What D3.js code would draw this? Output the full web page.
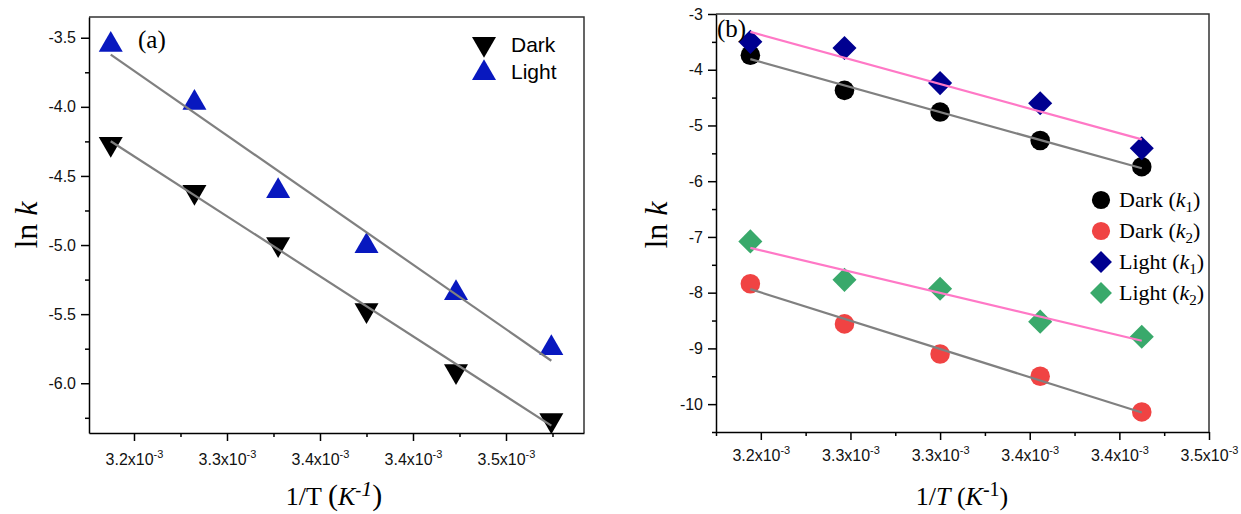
<!DOCTYPE html>
<html><head><meta charset="utf-8">
<script src="https://cdn.jsdelivr.net/npm/d3@7"></script>
<style>body{margin:0;background:#fff}</style>
</head><body>
<svg id="c" width="1241" height="514" xmlns="http://www.w3.org/2000/svg"></svg>
<script>
// ---------- Panel (a) data ----------
const invTA   = [3.180, 3.252, 3.324, 3.400, 3.477, 3.559];   // 1/T in 10^-3 K^-1
const darkA   = [-4.268, -4.616, -4.993, -5.471, -5.913, -6.268];
const lightA  = [-3.551, -3.971, -4.609, -5.007, -5.348, -5.746];
const xTicksA = [3.20, 3.28, 3.36, 3.44, 3.52];
const yTicksA = [-6.0, -5.5, -5.0, -4.5, -4.0, -3.5];
const legendA = ["Dark", "Light"];

// ---------- Panel (b) data ----------
const invTB   = [3.193, 3.256, 3.320, 3.387, 3.455];
const darkK1  = [-3.74, -4.37, -4.76, -5.27, -5.74];
const darkK2  = [-7.84, -8.56, -9.10, -9.50, -10.14];
const lightK1 = [-3.50, -3.61, -4.24, -4.60, -5.41];
const lightK2 = [-7.08, -7.77, -7.93, -8.52, -8.79];
const xTicksB = [3.20, 3.26, 3.32, 3.38, 3.44, 3.50];
const yTicksB = [-10, -9, -8, -7, -6, -5, -4, -3];
const legendB = ["Dark", "Dark", "Light", "Light"];
const legendSubB = ["1", "2", "1", "2"];

const SANS = "'Liberation Sans', Arial, sans-serif";
const SERIF = "'Liberation Serif', 'Times New Roman', serif";
const svg = d3.select("#c");

function fit(xs, ys) {
  const mx = d3.mean(xs), my = d3.mean(ys);
  const b = d3.sum(xs, (v, i) => (v - mx) * (ys[i] - my)) / d3.sum(xs, v => (v - mx) ** 2);
  const a = my - b * mx;
  return v => a + b * v;
}
function mids(t, lo, hi) {
  const s = t[1] - t[0], out = [];
  for (let v = t[0] - s / 2; v <= hi + 1e-9; v += s) if (v >= lo - 1e-9) out.push(+v.toFixed(6));
  return out;
}

function panel(cfg) {
  const x = d3.scaleLinear().domain(cfg.xDom).range([cfg.x0, cfg.x1]);
  const y = d3.scaleLinear().domain(cfg.yDom).range([cfg.y1, cfg.y0]);
  const g = svg.append("g");
  g.append("path").attr("d", `M${cfg.x0},${cfg.y0}H${cfg.x1}V${cfg.y1}`)
    .attr("fill", "none").attr("stroke", "#333").attr("stroke-width", 1.5);
  g.append("g").attr("transform", `translate(0,${cfg.y1})`)
    .call(d3.axisBottom(x).tickValues(mids(cfg.xTicks, cfg.xDom[0], cfg.xDom[1])).tickSize(4).tickFormat(""))
    .call(s => { s.select(".domain").remove(); s.selectAll("line").attr("stroke-width", 1.5); });
  g.append("g").attr("transform", `translate(${cfg.x0},0)`)
    .call(d3.axisLeft(y).tickValues(mids(cfg.yTicks, cfg.yDom[0], cfg.yDom[1])).tickSize(4).tickFormat(""))
    .call(s => { s.select(".domain").remove(); s.selectAll("line").attr("stroke-width", 1.5); });
  const xa = g.append("g").attr("transform", `translate(0,${cfg.y1})`)
    .call(d3.axisBottom(x).tickValues(cfg.xTicks).tickSize(8).tickSizeOuter(0));
  xa.select(".domain").attr("stroke-width", 1.5).attr("stroke", "#000");
  xa.selectAll("line").attr("stroke-width", 1.5);
  xa.selectAll("text").each(function (d) {
    const t = d3.select(this);
    t.text(null).attr("y", cfg.xLabY).attr("dy", 0)
      .attr("font-family", SANS).attr("font-size", 16).attr("fill", "#111");
    t.append("tspan").text(d.toFixed(1) + "x10");
    t.append("tspan").attr("dy", -7).attr("font-size", 11).text("-3");
  });
  const ya = g.append("g").attr("transform", `translate(${cfg.x0},0)`)
    .call(d3.axisLeft(y).tickValues(cfg.yTicks).tickSize(8).tickSizeOuter(0).tickPadding(5)
      .tickFormat(d => d.toFixed(cfg.yDec)));
  ya.select(".domain").attr("stroke-width", 1.5).attr("stroke", "#000");
  ya.selectAll("line").attr("stroke-width", 1.5);
  ya.selectAll("text").attr("font-family", SANS).attr("font-size", 16).attr("fill", "#111");
  return { g, x, y };
}

function fitLine(p, xs, ys, color) {
  const f = fit(xs, ys);
  const ends = [d3.min(xs), d3.max(xs)];
  p.g.append("line")
    .attr("x1", p.x(ends[0])).attr("y1", p.y(f(ends[0])))
    .attr("x2", p.x(ends[1])).attr("y2", p.y(f(ends[1])))
    .attr("stroke", color).attr("stroke-width", 2.2);
}

// ================= Panel (a) =================
const A = panel({ x0: 89, x1: 584, y0: 17, y1: 433, xDom: [3.1613, 3.5871], yDom: [-6.36, -3.35],
  xTicks: xTicksA, yTicks: yTicksA, yDec: 1, xLabY: 32 });
const triUp = d3.symbol().type(d3.symbolTriangle).size(250);
const colA = { dark: "#000000", light: "#0818bf" };
A.g.selectAll(".la").data(invTA).join("path")
  .attr("d", triUp).attr("fill", colA.light)
  .attr("transform", (d, i) => `translate(${A.x(d)},${A.y(lightA[i])})`);
A.g.selectAll(".da").data(invTA).join("path")
  .attr("d", triUp).attr("fill", colA.dark)
  .attr("transform", (d, i) => `translate(${A.x(d)},${A.y(darkA[i])}) rotate(180)`);
fitLine(A, invTA, lightA, "#808080");
fitLine(A, invTA, darkA, "#808080");
A.g.append("text").attr("x", 138).attr("y", 48).attr("font-family", SERIF).attr("font-size", 25).text("(a)");
A.g.append("path").attr("d", triUp).attr("fill", colA.dark).attr("transform", "translate(484,44) rotate(180)");
A.g.append("path").attr("d", triUp).attr("fill", colA.light).attr("transform", "translate(484,73)");
legendA.forEach((s, i) => A.g.append("text").attr("x", 511).attr("y", 52 + i * 27)
  .attr("font-family", SANS).attr("font-size", 21).attr("fill", "#000").text(s));
const ylA = A.g.append("text").attr("transform", "translate(37,225) rotate(-90)").attr("text-anchor", "middle")
  .attr("font-family", SERIF).attr("font-size", 32);
ylA.append("tspan").text("ln ");
ylA.append("tspan").attr("font-style", "italic").text("k");
const xlA = A.g.append("text").attr("x", 334).attr("y", 505).attr("text-anchor", "middle")
  .attr("font-family", SERIF).attr("font-size", 26);
xlA.append("tspan").text("1/T ");
xlA.append("tspan").attr("font-size", 30).text("(");
xlA.append("tspan").attr("font-style", "italic").text("K");
xlA.append("tspan").attr("dy", -9).attr("font-size", 18).text("-");
xlA.append("tspan").attr("font-style", "italic").attr("font-size", 22).text("1");
xlA.append("tspan").attr("dy", 9).attr("font-size", 30).text(")");

// ================= Panel (b) =================
const B = panel({ x0: 716, x1: 1209, y0: 14, y1: 432, xDom: [3.17, 3.50], yDom: [-10.5, -3],
  xTicks: xTicksB, yTicks: yTicksB, yDec: 0, xLabY: 29 });
const circ = d3.symbol().type(d3.symbolCircle).size(300);
const sq = d3.symbol().type(d3.symbolSquare).size(290);
const seriesB = [
  { ys: darkK1, color: "#000000", sym: circ, rot: 0, line: "#808080" },
  { ys: darkK2, color: "#f04343", sym: circ, rot: 0, line: "#808080" },
  { ys: lightK1, color: "#000090", sym: sq, rot: 45, line: "#ff78c6" },
  { ys: lightK2, color: "#39a96b", sym: sq, rot: 45, line: "#ff78c6" }
];
seriesB.forEach(s => {
  B.g.append("g").selectAll("path").data(invTB).join("path")
    .attr("d", s.sym).attr("fill", s.color)
    .attr("transform", (d, i) => `translate(${B.x(d)},${B.y(s.ys[i])}) rotate(${s.rot})`);
});
seriesB.forEach(s => fitLine(B, invTB, s.ys, s.line));
B.g.append("text").attr("x", 717).attr("y", 37).attr("font-family", SERIF).attr("font-size", 25).text("(b)");
const symL = [d3.symbol().type(d3.symbolCircle).size(260), d3.symbol().type(d3.symbolCircle).size(260),
              d3.symbol().type(d3.symbolSquare).size(240), d3.symbol().type(d3.symbolSquare).size(240)];
seriesB.forEach((s, i) => {
  const yy = 207 + i * 31;
  B.g.append("path").attr("d", symL[i]).attr("fill", s.color)
    .attr("transform", `translate(1101,${yy - 7}) rotate(${s.rot})`);
  const t = B.g.append("text").attr("x", 1119).attr("y", yy).attr("font-family", SERIF).attr("font-size", 22);
  t.append("tspan").text(legendB[i] + " (");
  t.append("tspan").attr("font-style", "italic").text("k");
  t.append("tspan").attr("dy", 5).attr("font-size", 15).text(legendSubB[i]);
  t.append("tspan").attr("dy", -5).text(")");
});
const ylB = B.g.append("text").attr("transform", "translate(667,225) rotate(-90)").attr("text-anchor", "middle")
  .attr("font-family", SERIF).attr("font-size", 32);
ylB.append("tspan").text("ln ");
ylB.append("tspan").attr("font-style", "italic").text("k");
const xlB = B.g.append("text").attr("x", 962).attr("y", 505).attr("text-anchor", "middle")
  .attr("font-family", SERIF).attr("font-size", 26);
xlB.append("tspan").text("1/");
xlB.append("tspan").attr("font-style", "italic").text("T");
xlB.append("tspan").text(" (");
xlB.append("tspan").attr("font-style", "italic").text("K");
xlB.append("tspan").attr("dy", -9).attr("font-size", 20).text("-1");
xlB.append("tspan").attr("dy", 9).text(")");
</script>
</body></html>
